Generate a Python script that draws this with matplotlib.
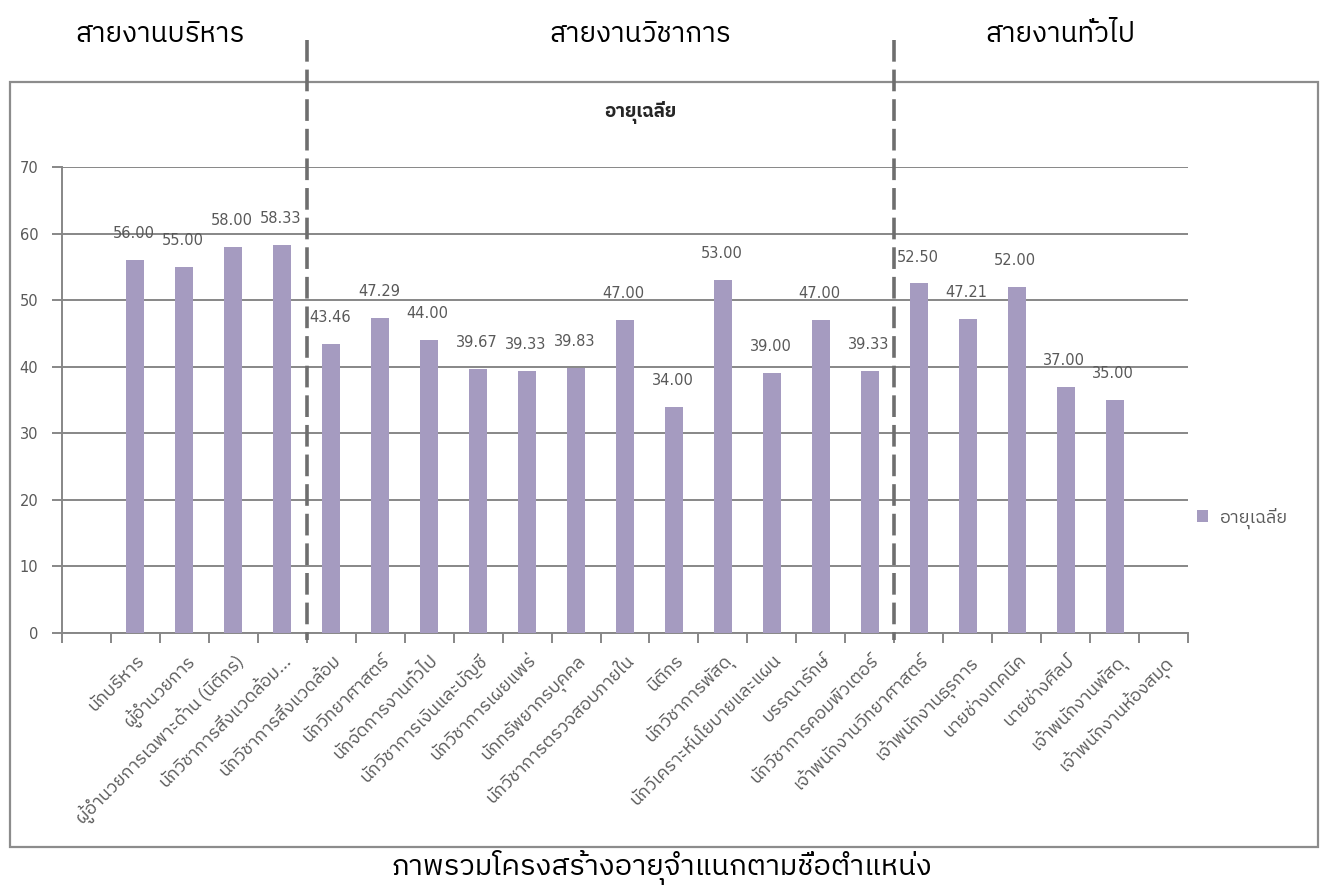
import matplotlib
matplotlib.use("Agg")
import matplotlib.pyplot as plt
import matplotlib.patches as mpatches
from matplotlib import font_manager
from matplotlib.ft2font import FT2Font
from matplotlib.transforms import blended_transform_factory
import numpy as np

# ---- data -------------------------------------------------------------
positions = [
    "นักบริหาร",
    "ผู้อำนวยการ",
    "ผู้อำนวยการเฉพาะด้าน (นิติกร)",
    "นักวิชาการสิ่งแวดล้อม...",
    "นักวิชาการสิ่งแวดล้อม",
    "นักวิทยาศาสตร์",
    "นักจัดการงานทั่วไป",
    "นักวิชาการเงินและบัญชี",
    "นักวิชาการเผยแพร่",
    "นักทรัพยากรบุคคล",
    "นักวิชาการตรวจสอบภายใน",
    "นิติกร",
    "นักวิชาการพัสดุ",
    "นักวิเคราะห์นโยบายและแผน",
    "บรรณารักษ์",
    "นักวิชาการคอมพิวเตอร์",
    "เจ้าพนักงานวิทยาศาสตร์",
    "เจ้าพนักงานธุรการ",
    "นายช่างเทคนิค",
    "นายช่างศิลป์",
    "เจ้าพนักงานพัสดุ",
    "เจ้าพนักงานห้องสมุด",
]
avg_age = [56.00, 55.00, 58.00, 58.33, 43.46, 47.29, 44.00, 39.67, 39.33,
           39.83, 47.00, 34.00, 53.00, 39.00, 47.00, 39.33, 52.50, 47.21,
           52.00, 37.00, 35.00, np.nan]
groups = ["สายงานบริหาร", "สายงานวิชาการ", "สายงานทั่วไป"]
group_sizes = [4, 12, 6]
series_name = "อายุเฉลี่ย"
caption = "ภาพรวมโครงสร้างอายุจำแนกตามชื่อตำแหน่ง"
y_ticks = [0, 10, 20, 30, 40, 50, 60, 70]


# ---- font with Thai glyphs --------------------------------------------
def find_thai_font():
    preferred, others = [], []
    for fe in font_manager.fontManager.ttflist:
        try:
            cmap = FT2Font(fe.fname).get_charmap()
        except Exception:
            continue
        if 0x0E01 in cmap and 0x0E48 in cmap:
            name = fe.name
            if "Thai" in name or "Tahoma" in name or "Loma" in name:
                preferred.append(name)
            else:
                others.append(name)
    for lst in (preferred, others):
        if lst:
            return sorted(set(lst), key=lambda n: ("Looped" in n, "UI" in n, n))[0]
    return None


thai = find_thai_font()
families = ([thai] if thai else []) + ["DejaVu Sans"]
plt.rcParams["font.family"] = families

# ---- colours ----------------------------------------------------------
bar_color = "#a59bc0"
grid_color = "#878787"
text_color = "#595959"

# ---- figure -----------------------------------------------------------
W, H = 1325, 888
fig = plt.figure(figsize=(W / 100, H / 100), dpi=100)
fig.patch.set_facecolor("white")


def fx(px):
    return px / W


def fy(py):
    return 1 - py / H


# outer chart frame
fig.add_artist(mpatches.Rectangle((fx(10), fy(847)), fx(1318) - fx(10), fy(82) - fy(847),
                                  transform=fig.transFigure, fill=False,
                                  edgecolor="#8c8c8c", linewidth=1.6, zorder=0))

ax = fig.add_axes([fx(62), fy(633), fx(1188) - fx(62), fy(167) - fy(633)])

n = len(positions)
xs = np.arange(1, n + 1)
bars = ax.bar(xs, avg_age, width=0.37, color=bar_color, label=series_name, zorder=3)

for x, v in zip(xs, avg_age):
    if np.isnan(v):
        continue
    ax.annotate(f"{v:.2f}", (x, v), xytext=(-1, 19), textcoords="offset points",
                ha="center", va="center", fontsize=10.5, color=text_color,
                family="DejaVu Sans")

ax.set_xlim(-0.5, n + 0.5)
ax.set_ylim(0, 70)
ax.set_yticks(y_ticks)
ax.set_yticklabels([str(t) for t in y_ticks], fontsize=10.5, color=text_color,
                   family="DejaVu Sans")
ax.yaxis.grid(True, color=grid_color, linewidth=1.4, zorder=1)
ax.set_axisbelow(True)

ax.set_xticks(xs)
ax.set_xticklabels(positions, rotation=45, ha="right", va="top",
                   rotation_mode="anchor", fontsize=13, color=text_color)
ax.set_xticks(np.arange(-0.5, n + 1.0, 1.0), minor=True)
ax.tick_params(axis="x", which="major", length=0, pad=13)
ax.tick_params(axis="x", which="minor", length=7, color=grid_color, width=1.4)
ax.tick_params(axis="y", length=7, color=grid_color, width=1.4, pad=10)

for side in ("top", "right"):
    ax.spines[side].set_visible(False)
for side in ("left", "bottom"):
    ax.spines[side].set_color(grid_color)
    ax.spines[side].set_linewidth(1.4)

# chart title
fig.text(fx(640), fy(113), series_name, ha="center", va="center",
         fontsize=13.5, fontweight="bold", color="#262626")

# legend
ax.legend(handles=[bars], labels=[series_name], loc="center left",
          bbox_to_anchor=(fx(1181), fy(518)), bbox_transform=fig.transFigure,
          frameon=False, fontsize=13, handlelength=0.6, handleheight=0.6,
          handletextpad=0.6, labelcolor=text_color)

# group separators and headings
bounds = np.cumsum(group_sizes)
trans = blended_transform_factory(ax.transData, fig.transFigure)
for b in bounds[:-1]:
    ax.plot([b + 0.5, b + 0.5], [fy(40), fy(640)], transform=trans, clip_on=False,
            color="#6e6e6e", linewidth=2.6, linestyle=(0, (6, 2.2)), zorder=5)

group_x = [160, 640, 1060]
for g, gx in zip(groups, group_x):
    fig.text(fx(gx), fy(35), g, ha="center", va="center", fontsize=20, color="black")

fig.text(fx(662), fy(867), caption, ha="center", va="center", fontsize=21, color="black")

fig.savefig("out.png", dpi=100, facecolor="white")
